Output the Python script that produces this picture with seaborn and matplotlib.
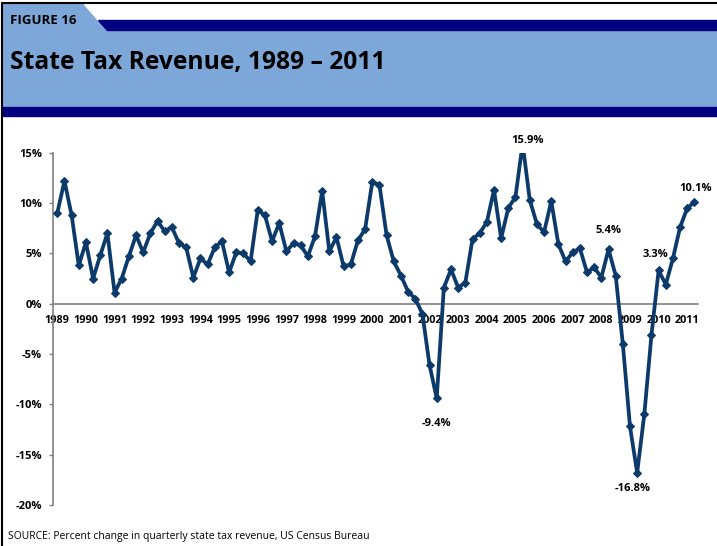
import pandas as pd
import matplotlib
matplotlib.use('Agg')
import matplotlib.pyplot as plt
import seaborn as sns
from matplotlib.patches import Polygon, Rectangle

# quarterly % change in state tax revenue, 1989 Q1 - 2011 Q2
year_labels = [str(y) for y in range(1989, 2012)]
revenue_change = [
    9.0, 12.2, 8.8, 3.8, 6.1, 2.5, 4.8, 7.0, 1.1, 2.5, 4.7, 6.8,
    5.1, 7.0, 8.2, 7.2, 7.6, 6.0, 5.6, 2.6, 4.5, 3.9, 5.6, 6.2,
    3.1, 5.1, 5.0, 4.2, 9.3, 8.8, 6.2, 8.0, 5.2, 6.0, 5.8, 4.7,
    6.7, 11.2, 5.2, 6.6, 3.7, 3.9, 6.3, 7.4, 12.1, 11.8, 6.8, 4.2,
    2.8, 1.2, 0.5, -1.0, -6.1, -9.4, 1.6, 3.4, 1.6, 2.1, 6.4, 7.0,
    8.1, 11.3, 6.5, 9.5, 10.6, 15.9, 10.3, 7.9, 7.1, 10.2, 5.9, 4.2,
    5.1, 5.5, 3.1, 3.6, 2.6, 5.4, 2.8, -4.0, -12.2, -16.8, -11.0, -3.1,
    3.3, 1.9, 4.5, 7.6, 9.5, 10.1,
]
label_quarters = [65, 89, 77, 84, 53, 81]
label_offsets = [(3.6, 2.6), (0.7, 10), (0, 13.7), (-2.2, 11.5), (0, -18), (-3.6, -11.5)]

df = pd.DataFrame({'quarter': range(len(revenue_change)), 'change': revenue_change})

sns.set_style('white')
plt.rcParams['font.family'] = ['Open Sans', 'DejaVu Sans']
plt.rcParams['text.color'] = 'black'

W, H = 717, 546
navy_line = '#0B3A6B'
header_blue = '#7CA7D8'
header_navy = '#000080'

fig = plt.figure(figsize=(W / 100, H / 100), dpi=100)


def fx(x):
    return x / W


def fy(y):
    return 1 - y / H


# header
fig.patches.append(Rectangle((fx(3), fy(107)), fx(W), 104 / H, transform=fig.transFigure,
                             color=header_blue, zorder=0))
fig.patches.append(Polygon([(fx(84), fy(4)), (fx(W), fy(4)), (fx(W), fy(20)), (fx(98), fy(20))],
                           closed=True, transform=fig.transFigure, color='white', zorder=1))
fig.patches.append(Polygon([(fx(98), fy(20)), (fx(W), fy(20)), (fx(W), fy(30)), (fx(107), fy(30))],
                           closed=True, transform=fig.transFigure, color=header_navy, zorder=1))
fig.patches.append(Rectangle((fx(3), fy(116)), fx(W), 9 / H, transform=fig.transFigure,
                             color=header_navy, zorder=1))
fig.add_artist(plt.Line2D([fx(2), fx(2)], [fy(3), 0], transform=fig.transFigure, color='black', lw=1.5))
fig.add_artist(plt.Line2D([fx(2), 1], [fy(3), fy(3)], transform=fig.transFigure, color='black', lw=1.5))

fig.text(fx(10), fy(20), 'FIGURE 16', fontsize=9.5, fontweight='bold', va='center', ha='left')
fig.text(fx(10), fy(63), 'State Tax Revenue, 1989 – 2011', fontsize=17.7, fontweight='bold',
         va='center', ha='left')
fig.text(fx(8), fy(537), 'SOURCE: Percent change in quarterly state tax revenue, US Census Bureau',
         fontsize=7.5, va='center', ha='left')

ax = fig.add_axes([fx(53), fy(505), fx(698 - 53), (505 - 152.7) / H])
sns.lineplot(data=df, x='quarter', y='change', ax=ax, color=navy_line, lw=2.7,
             marker='D', markersize=4.5, markeredgecolor=navy_line, zorder=3)

for side in ['top', 'right']:
    ax.spines[side].set_visible(False)
ax.spines['bottom'].set_position(('data', 0))
for side in ['left', 'bottom']:
    ax.spines[side].set_color('#808080')
    ax.spines[side].set_linewidth(1.2)

ax.set_xlim(-0.6, 89.5)
ax.set_ylim(-20, 15)

ax.set_xticks(range(0, len(revenue_change), 4))
ax.set_xticklabels(year_labels, fontsize=7.8, fontweight='bold')
ax.set_yticks(range(-20, 16, 5))
ax.set_yticklabels([f'{v}%' for v in range(-20, 16, 5)], fontsize=8, fontweight='bold')
ax.tick_params(axis='x', length=0, pad=8.5, labelcolor='black')
ax.tick_params(axis='y', length=3, width=1, color='#808080', pad=5, left=True, labelcolor='black')
ax.set_xlabel('')
ax.set_ylabel('')

for q, (dx, dy) in zip(label_quarters, label_offsets):
    ax.annotate(f'{revenue_change[q]}%', (q, revenue_change[q]), xytext=(dx, dy),
                textcoords='offset points', ha='center', va='center', fontsize=8,
                fontweight='bold', annotation_clip=False)

fig.savefig('out.png', dpi=100)
